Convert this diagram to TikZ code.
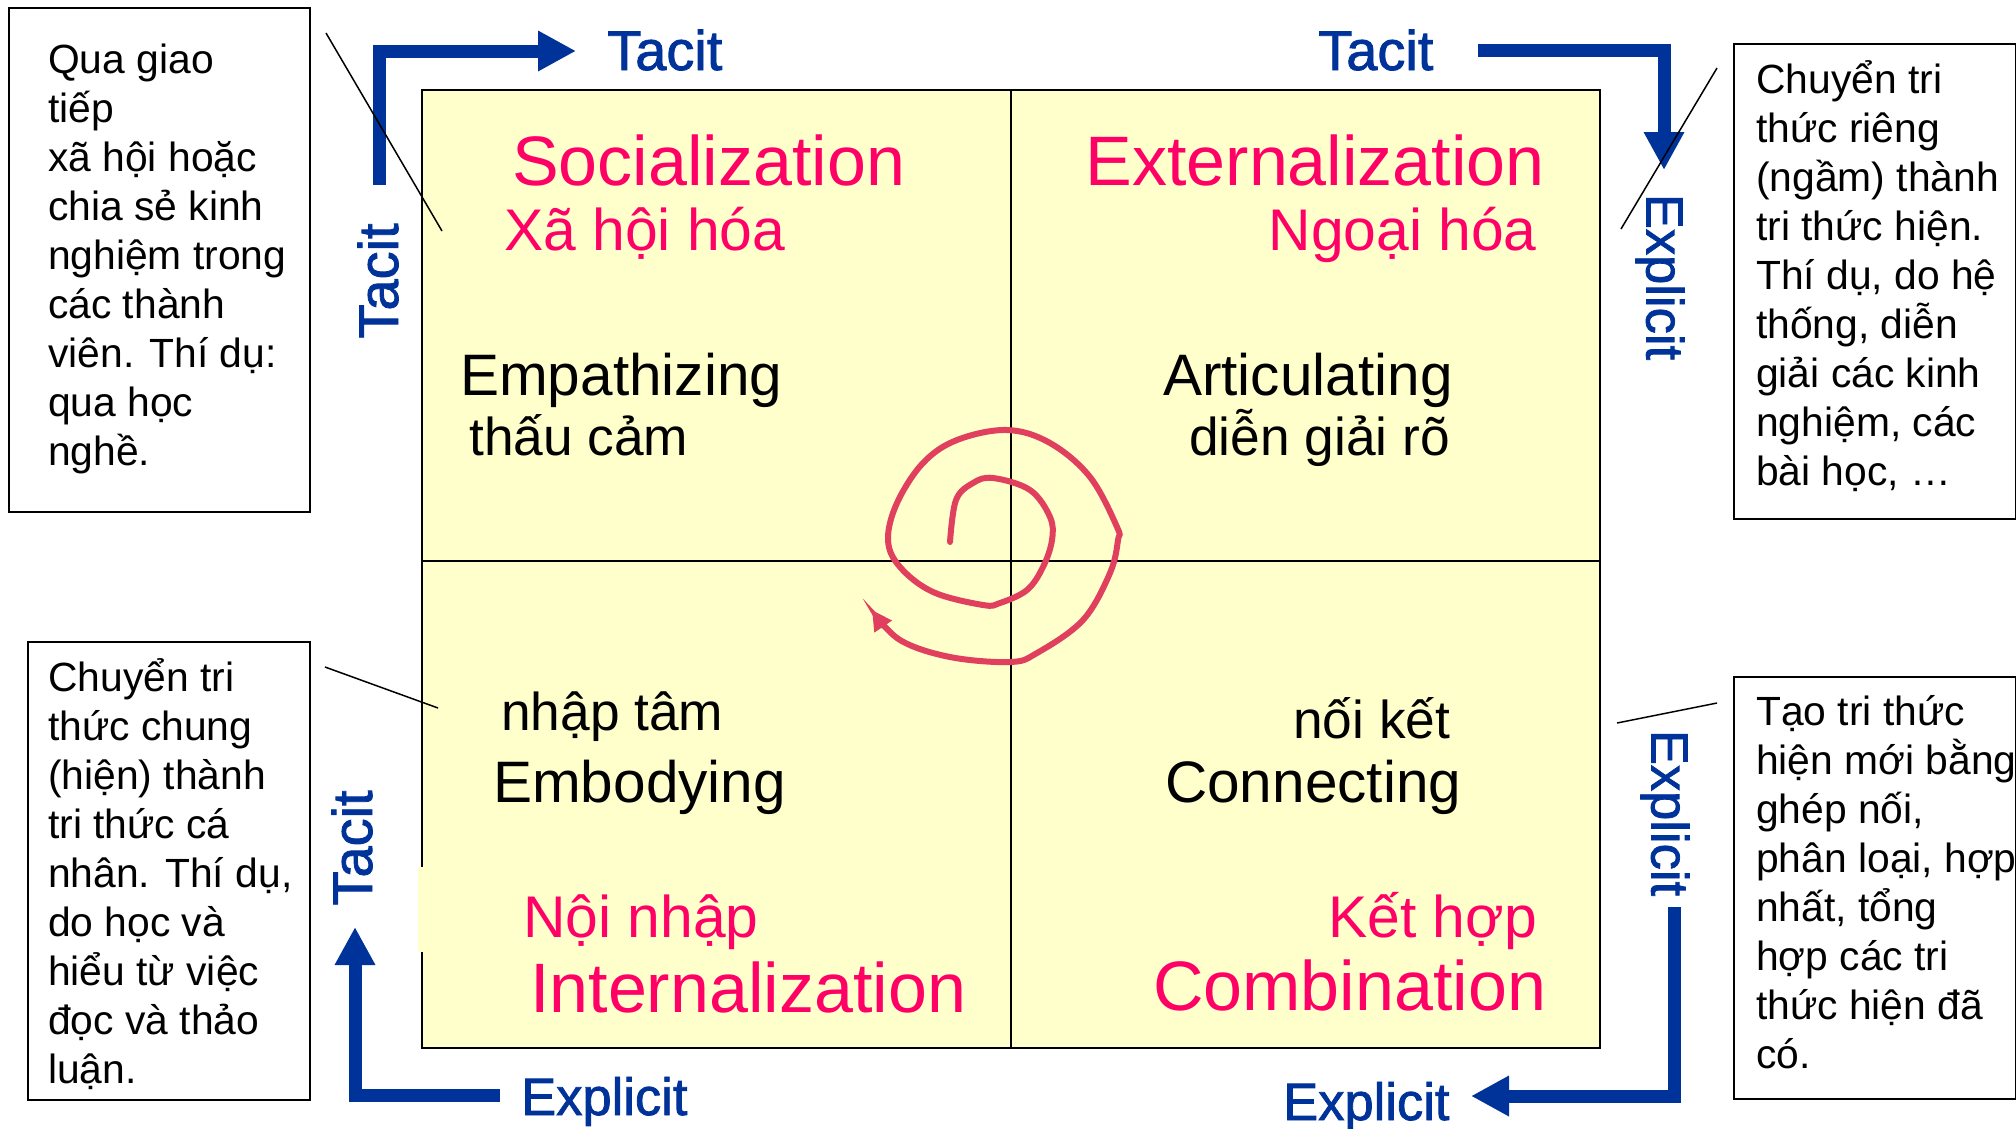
\documentclass[tikz,border=0pt]{standalone}
\usepackage{fontspec}
\setmainfont{Liberation Sans}
\newfontfamily\axisfont{Liberation Sans}[FakeBold=1.5]
\usetikzlibrary{arrows.meta}

\definecolor{modecol}{HTML}{FF0066}
\definecolor{axiscol}{HTML}{003399}
\definecolor{spiralcol}{HTML}{E0405E}
\definecolor{quadfill}{HTML}{FFFFCC}

\tikzstyle{modename}=[text=modecol,font=\fontsize{70}{84}\selectfont,inner sep=0pt]
\tikzstyle{modevn}=[text=modecol,font=\fontsize{58.8}{70}\selectfont,inner sep=0pt]
\tikzstyle{actname}=[font=\fontsize{58.5}{70}\selectfont,inner sep=0pt]
\tikzstyle{actvn}=[font=\fontsize{53.3}{64}\selectfont,inner sep=0pt]
\tikzstyle{axislbl}=[text=axiscol,font=\axisfont\fontsize{52.5}{63}\selectfont,inner sep=0pt]
\tikzstyle{tacitlbl}=[text=axiscol,font=\axisfont\fontsize{56}{67}\selectfont,inner sep=0pt]
\tikzstyle{notebox}=[draw,line width=1.5pt,anchor=north west,inner sep=0pt]
\tikzstyle{notetext}=[font=\fontsize{40.8}{49}\selectfont,inner sep=0pt,anchor=base west]
\newcommand{\term}[5]{\node[#1,anchor=#2] (#3) at (#4) {#5};}
\newcommand{\notelines}[1]{\parbox[t]{320pt}{#1}}
\tikzset{
	quadrant/.style={draw,line width=1.5pt,fill=quadfill,anchor=north west,inner sep=0pt},
	cyclearrow/.style={draw=axiscol,line width=13pt,-{Triangle[length=38pt,width=38pt]}},
	pointer/.style={line width=1.5pt},
	spiralline/.style={draw=spiralcol,line width=6pt,line cap=round,-{Triangle[length=20pt,width=20pt]}},
}

\begin{document}
\begin{tikzpicture}[x=1pt,y=-1pt]

    \useasboundingbox (0,0) rectangle (2016,1128);

    \node[quadrant,minimum width=589pt,minimum height=471pt] (soc) at (421,89) {};
    \node[quadrant,minimum width=589pt,minimum height=471pt] (ext) at (1010,89) {};
    \node[quadrant,minimum width=589pt,minimum height=487pt] (intr) at (421,560) {};
    \node[quadrant,minimum width=589pt,minimum height=487pt] (com) at (1010,560) {};
    \fill[quadfill] (418,867) rectangle (424,952);

    \draw[spiralline] plot[smooth,tension=0.6] coordinates {(950,542) (956,500) (973,483) (993,478) (1030,490) (1050,517) (1052,540) (1043,567) (1027,590) (1000,603) (983,605) (933,592) (900,567) (888,540) (897,503) (923,463) (957,440) (1007,430) (1050,443) (1090,477) (1117,527) (1118,540) (1110,573) (1083,620) (1037,653) (1010,662) (950,657) (900,640) (872,610)};

    \term{modename}{base west}{socname}{512,185}{Socialization}
    \term{modevn}{base west}{socvn}{504,250}{Xã hội hóa}
    \term{modename}{base east}{extname}{1545,185}{Externalization}
    \term{modevn}{base east}{extvn}{1537,250}{Ngoại hóa}
    \term{actname}{base west}{socact}{460,395}{Empathizing}
    \term{actvn}{base west}{socactvn}{469,455}{thấu cảm}
    \term{actname}{base west}{extact}{1163,395}{Articulating}
    \term{actvn}{base west}{extactvn}{1189,455}{diễn giải rõ}
    \term{actvn}{base west}{intactvn}{501,730}{nhập tâm}
    \term{actname}{base west}{intact}{493,802}{Embodying}
    \term{actvn}{base west}{comactvn}{1293,738}{nối kết}
    \term{actname}{base west}{comact}{1165,802}{Connecting}
    \term{modevn}{base west}{intvn}{523,937}{Nội nhập}
    \term{modename}{base west}{intname}{530,1012}{Internalization}
    \term{modevn}{base east}{comvn}{1537,937}{Kết hợp}
    \term{modename}{base west}{comname}{1153,1010}{Combination}

    \draw[cyclearrow] (379,185) -- (379,51) -- (576,51);
    \draw[cyclearrow] (1478,50) -- (1664,50) -- (1664,170);
    \draw[cyclearrow] (1674,907) -- (1674,1096) -- (1471,1096);
    \draw[cyclearrow] (500,1095) -- (355,1095) -- (355,927);

    \term{tacitlbl}{base west}{tacittl}{607,70}{Tacit}
    \term{tacitlbl}{base west}{tacittr}{1318,70}{Tacit}
    \term{axislbl}{base west}{explbl}{521,1115}{Explicit}
    \term{axislbl}{base west}{explbr}{1283,1120}{Explicit}
    \term{tacitlbl,rotate=90}{center}{tacitl}{378,281}{Tacit}
    \term{tacitlbl,rotate=90}{center}{tacitbl}{352,848}{Tacit}
    \term{axislbl,rotate=-90}{center}{expltr}{1660,277}{Explicit}
    \term{axislbl,rotate=-90}{center}{explrb}{1665,813}{Explicit}

    \node[notebox,minimum width=301pt,minimum height=504pt] (socnote) at (8,7) {};
    \node[notebox,minimum width=282pt,minimum height=475pt] (extnote) at (1733,43) {};
    \node[notebox,minimum width=282pt,minimum height=458pt] (intnote) at (27,641) {};
    \node[notebox,minimum width=282pt,minimum height=422pt] (comnote) at (1733,676) {};

    \node[notetext] (socnotetext) at (48,73) {\notelines{Qua giao\\tiếp\\xã hội hoặc\\chia sẻ kinh\\nghiệm trong\\các thành\\viên. Thí dụ:\\qua học\\nghề.}};
    \node[notetext] (extnotetext) at (1756,93) {\notelines{Chuyển tri\\thức riêng\\(ngầm) thành\\tri thức hiện.\\Thí dụ, do hệ\\thống, diễn\\giải các kinh\\nghiệm, các\\bài học, …}};
    \node[notetext] (intnotetext) at (48,691) {\notelines{Chuyển tri\\thức chung\\(hiện) thành\\tri thức cá\\nhân. Thí dụ,\\do học và\\hiểu từ việc\\đọc và thảo\\luận.}};
    \node[notetext] (comnotetext) at (1756,725) {\notelines{Tạo tri thức\\hiện mới bằng\\ghép nối,\\phân loại, hợp\\nhất, tổng\\hợp các tri\\thức hiện đã\\có.}};

    \coordinate (socfrom) at (326,33);
    \coordinate (socto) at (442,231);
    \coordinate (extfrom) at (1717,68);
    \coordinate (extto) at (1621,229);
    \coordinate (intfrom) at (325,667);
    \coordinate (intto) at (438,708);
    \coordinate (comfrom) at (1717,703);
    \coordinate (comto) at (1617,723);
    \draw[pointer] (socfrom) -- (socto);
    \draw[pointer] (extfrom) -- (extto);
    \draw[pointer] (intfrom) -- (intto);
    \draw[pointer] (comfrom) -- (comto);
\end{tikzpicture}
\end{document}
